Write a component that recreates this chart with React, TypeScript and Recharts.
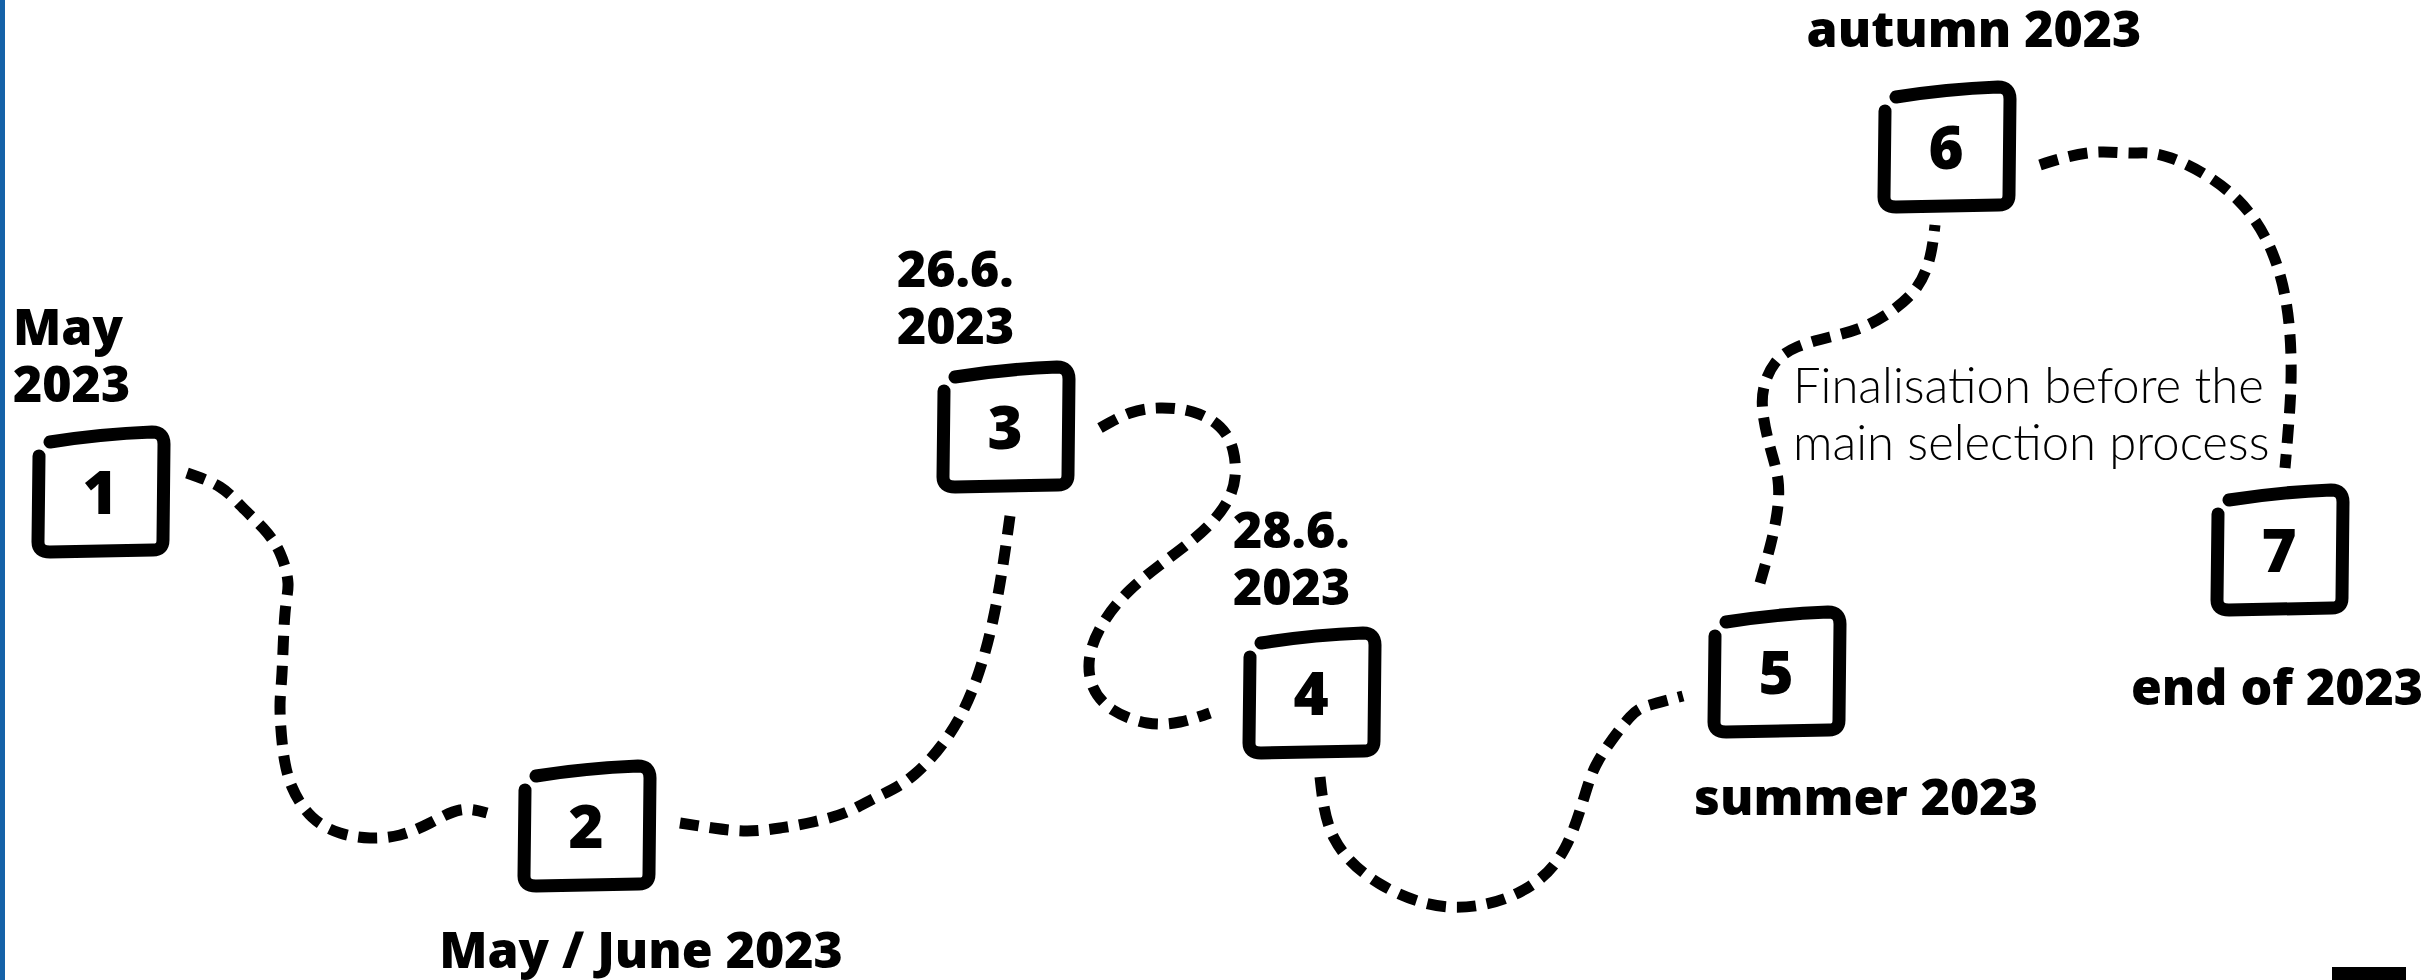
import { ComposedChart, Line, ReferenceArea, Scatter, XAxis, YAxis } from "recharts";

// timeline steps (centre of each box, in page pixels)
const stepLabels = ["1", "2", "3", "4", "5", "6", "7"];
const stepX = [100, 586, 1005, 1311, 1776, 1946, 2279];
const stepY = [492, 826, 427, 693, 672, 147, 550];

// dashed connectors, traced point by point
const path12 = [
  [187, 473], [220, 487], [242, 507], [263, 528], [280, 553], [288, 583], [285, 613],
  [282, 673], [280, 707], [283, 750], [292, 787], [312, 817], [340, 833], [370, 838],
  [400, 835], [430, 823], [460, 810], [487, 813],
];
const path23 = [
  [680, 823], [713, 828], [747, 831], [780, 828], [813, 822], [847, 812], [877, 797],
  [915, 774], [962, 713], [993, 620], [1010, 516],
];
const path34 = [
  [1100, 428], [1130, 413], [1160, 408], [1193, 412], [1220, 427], [1233, 450],
  [1235, 477], [1228, 500], [1212, 522], [1190, 542], [1160, 565], [1130, 590],
  [1105, 620], [1090, 655], [1093, 687], [1113, 710], [1147, 723], [1180, 722],
  [1210, 713],
];
const path45 = [
  [1320, 777], [1334, 838], [1380, 884], [1450, 907], [1520, 892], [1565, 848],
  [1588, 785], [1605, 750], [1630, 717], [1650, 705], [1683, 696],
];
const path56 = [
  [1760, 583], [1770, 547], [1777, 513], [1778, 480], [1770, 447], [1763, 413],
  [1764, 387], [1775, 363], [1797, 347], [1830, 337], [1863, 327], [1893, 310],
  [1917, 287], [1930, 257], [1935, 225],
];
const path67 = [
  [2040, 165], [2067, 157], [2100, 152], [2133, 153], [2171, 158], [2238, 200],
  [2280, 275], [2291, 357], [2289, 420], [2285, 468],
];

const dateLabels = [
  { lines: ["May", "2023"], x: 13, y: 345, anchor: "start" },
  { lines: ["May / June 2023"], x: 641, y: 968, anchor: "middle" },
  { lines: ["26.6.", "2023"], x: 897, y: 287, anchor: "start" },
  { lines: ["28.6.", "2023"], x: 1233, y: 548, anchor: "start" },
  { lines: ["summer 2023"], x: 1866, y: 815, anchor: "middle" },
  { lines: ["autumn 2023"], x: 1974, y: 47, anchor: "middle" },
  { lines: ["end of 2023"], x: 2277, y: 705, anchor: "middle" },
];
const noteLabel = [
  { lines: ["Finalisation before the", "main selection process"], x: 1793, y: 403, anchor: "start" },
];

const toPts = (p: number[][]) => p.map(([x, y]) => ({ x, y }));
const segments = [path12, path23, path34, path45, path56, path67].map(toPts);
const steps = stepLabels.map((label, i) => ({ x: stepX[i], y: stepY[i], label }));

const BOLD = "'Open Sans', Lato, sans-serif";
const LIGHT = "Lato, 'Open Sans', sans-serif";

function StepBox(props: any) {
  const { cx, cy, payload } = props;
  return (
    <g transform={`translate(${cx},${cy})`}>
      <path
        d="M -50 -50 Q 0 -58 52 -60 Q 64 -60 64 -48 L 63 48 Q 63 58 53 58 L -50 60 Q -62 60 -62 50 L -61 -36"
        fill="none"
        stroke="#000"
        strokeWidth={13}
        strokeLinecap="round"
        strokeLinejoin="round"
      />
      <text x={0} y={22} textAnchor="middle" fontFamily={BOLD} fontWeight={800} fontSize={60} fill="#000">
        {payload.label}
      </text>
    </g>
  );
}

function makeLabel(family: string, weight: number, size: number, lineGap: number) {
  return (props: any) => {
    const { cx, cy, payload } = props;
    return (
      <text x={cx} y={cy} textAnchor={payload.anchor} fontFamily={family} fontWeight={weight} fontSize={size} fill="#000">
        {payload.lines.map((l: string, i: number) => (
          <tspan key={i} x={cx} y={cy + i * lineGap}>
            {l}
          </tspan>
        ))}
      </text>
    );
  };
}

export default function App() {
  return (
    <div style={{ width: 2432, height: 980, background: "#fff" }}>
      <style>{`body{margin:0;background:#fff}`}</style>
      <ComposedChart width={2432} height={980} margin={{ top: 0, right: 0, bottom: 0, left: 0 }}>
        <XAxis type="number" dataKey="x" domain={[0, 2432]} hide />
        <YAxis type="number" dataKey="y" domain={[0, 980]} reversed hide />
        <ReferenceArea x1={0} x2={5} y1={0} y2={980} fill="#1462a8" fillOpacity={1} stroke="none" />
        <ReferenceArea x1={2332} x2={2406} y1={967} y2={980} fill="#000" fillOpacity={1} stroke="none" />
        {segments.map((seg, i) => (
          <Line
            key={i}
            data={seg}
            dataKey="y"
            type="natural"
            stroke="#000"
            strokeWidth={11}
            strokeDasharray="19 11"
            dot={false}
            activeDot={false}
            isAnimationActive={false}
          />
        ))}
        <Scatter data={steps} shape={StepBox} isAnimationActive={false} />
        <Scatter data={dateLabels} shape={makeLabel(BOLD, 800, 50, 57)} isAnimationActive={false} />
        <Scatter data={noteLabel} shape={makeLabel(LIGHT, 300, 49, 57)} isAnimationActive={false} />
      </ComposedChart>
    </div>
  );
}
